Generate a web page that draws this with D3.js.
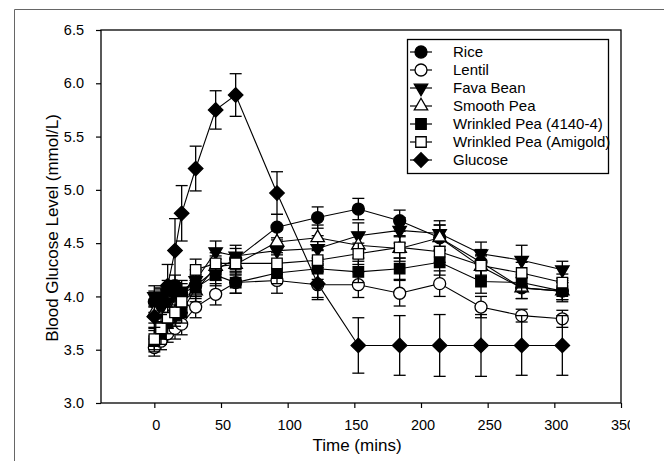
<!DOCTYPE html>
<html lang="en">
<head>
<meta charset="utf-8">
<script src="https://d3js.org/d3.v7.min.js"></script>
<style>
  body { margin: 0; background: #fff; }
  svg { display: block; font-family: "Liberation Sans", Arial, sans-serif; }
</style>
</head>
<body>
<div id="container"></div>
<script>
// sampling times as plotted (mins)
const times = [0, 5, 10, 15.5, 20.5, 31, 46, 61, 92, 122.5, 153, 184, 214, 245, 275.5, 306];

const seriesNames = ["Rice", "Lentil", "Fava Bean", "Smooth Pea", "Wrinkled Pea (4140-4)", "Wrinkled Pea (Amigold)", "Glucose"];

const rice     = [3.95, 3.98, 4.05, 4.10, 4.02, 4.10, 4.25, 4.35, 4.65, 4.74, 4.82, 4.71, 4.55, 4.32, 4.08, 4.05];
const riceErr  = [0.10, 0.10, 0.10, 0.10, 0.10, 0.10, 0.10, 0.10, 0.12, 0.10, 0.10, 0.10, 0.12, 0.12, 0.10, 0.10];

const lentil    = [3.52, 3.58, 3.65, 3.70, 3.74, 3.90, 4.02, 4.13, 4.15, 4.11, 4.11, 4.03, 4.12, 3.90, 3.82, 3.79];
const lentilErr = [0.08, 0.08, 0.08, 0.10, 0.10, 0.10, 0.10, 0.10, 0.12, 0.12, 0.12, 0.12, 0.12, 0.10, 0.06, 0.08];

const fava    = [4.00, 3.90, 3.95, 4.00, 4.05, 4.15, 4.42, 4.38, 4.43, 4.45, 4.57, 4.62, 4.59, 4.40, 4.34, 4.25];
const favaErr = [0.10, 0.10, 0.10, 0.10, 0.10, 0.10, 0.10, 0.10, 0.12, 0.12, 0.12, 0.12, 0.12, 0.11, 0.14, 0.08];

const smooth    = [3.85, 3.80, 3.85, 3.90, 3.95, 4.05, 4.28, 4.30, 4.51, 4.55, 4.48, 4.45, 4.55, 4.28, 4.08, 4.05];
const smoothErr = [0.10, 0.10, 0.10, 0.10, 0.10, 0.10, 0.10, 0.10, 0.12, 0.12, 0.12, 0.12, 0.12, 0.10, 0.10, 0.08];

const wp4140    = [3.58, 3.65, 3.75, 3.82, 3.85, 4.08, 4.20, 4.13, 4.22, 4.26, 4.23, 4.26, 4.32, 4.14, 4.13, 4.05];
const wp4140Err = [0.10, 0.10, 0.10, 0.10, 0.10, 0.10, 0.10, 0.10, 0.10, 0.10, 0.10, 0.10, 0.12, 0.11, 0.08, 0.08];

const amigold    = [3.60, 3.70, 3.80, 3.85, 3.95, 4.25, 4.31, 4.31, 4.31, 4.34, 4.40, 4.46, 4.42, 4.29, 4.22, 4.13];
const amigoldErr = [0.10, 0.10, 0.10, 0.10, 0.10, 0.10, 0.10, 0.10, 0.10, 0.10, 0.10, 0.10, 0.10, 0.10, 0.10, 0.08];

const glucose    = [3.81, 3.95, 4.10, 4.43, 4.78, 5.20, 5.75, 5.89, 4.97, 4.12, 3.54, 3.54, 3.54, 3.54, 3.54, 3.54];
const glucoseErr = [0.10, 0.12, 0.20, 0.30, 0.26, 0.21, 0.18, 0.20, 0.20, 0.15, 0.26, 0.28, 0.29, 0.29, 0.28, 0.28];

const xTicks = [0, 50, 100, 150, 200, 250, 300, 350];
const yTicks = [3.0, 3.5, 4.0, 4.5, 5.0, 5.5, 6.0, 6.5];

const width = 664, height = 461;
const svg = d3.select("#container").append("svg").attr("width", width).attr("height", height);

// outer frame (cropped at right / bottom)
svg.append("path").attr("d", "M14.5,470V9.5H670").attr("fill", "none").attr("stroke", "#666").attr("stroke-width", 1);

const x = d3.scaleLinear().domain([-40, 350]).range([101, 621]);
const y = d3.scaleLinear().domain([3, 6.5]).range([403, 30]);

svg.append("defs").append("clipPath").attr("id", "crop")
  .append("rect").attr("x", 0).attr("y", 0).attr("width", 630).attr("height", height);

const xAxis = svg.append("g").attr("transform", "translate(0,403)")
  .attr("clip-path", "url(#crop)")
  .call(d3.axisBottom(x).tickValues(xTicks).tickSize(5).tickPadding(12).tickFormat(d3.format("d")));
const yAxis = svg.append("g").attr("transform", "translate(101,0)")
  .call(d3.axisLeft(y).tickValues(yTicks).tickSize(5).tickPadding(12).tickFormat(d3.format(".1f")));
[xAxis, yAxis].forEach(a => {
  a.select(".domain").remove();
  a.selectAll("text").attr("font-size", 14.5).attr("fill", "#000").attr("font-family", "Liberation Sans, Arial, sans-serif");
  a.selectAll("line").attr("stroke", "#000").attr("stroke-width", 1.2);
});
xAxis.selectAll("text").attr("dx", 1.5);

svg.append("rect").attr("x", 101).attr("y", 30).attr("width", 520).attr("height", 373)
  .attr("fill", "none").attr("stroke", "#000").attr("stroke-width", 1.3);

svg.append("text").attr("x", 357).attr("y", 451).attr("text-anchor", "middle")
  .attr("font-size", 17).text("Time (mins)");
svg.append("text").attr("transform", "translate(58,228) rotate(-90)").attr("text-anchor", "middle")
  .attr("font-size", 17).text("Blood Glucose Level (mmol/L)");

// marker definitions
const sq = d3.symbol().type(d3.symbolSquare);
const markers = [
  { path: d3.symbol().type(d3.symbolCircle).size(113)(), fill: "#000", rot: 0 },
  { path: d3.symbol().type(d3.symbolCircle).size(113)(), fill: "#fff", rot: 0 },
  { path: d3.symbol().type(d3.symbolTriangle).size(78)(), fill: "#000", rot: 180 },
  { path: d3.symbol().type(d3.symbolTriangle).size(78)(), fill: "#fff", rot: 0 },
  { path: sq.size(110)(), fill: "#000", rot: 0 },
  { path: sq.size(110)(), fill: "#fff", rot: 0 },
  { path: sq.size(105)(), fill: "#000", rot: 45 }
];

const values = [rice, lentil, fava, smooth, wp4140, amigold, glucose];
const errors = [riceErr, lentilErr, favaErr, smoothErr, wp4140Err, amigoldErr, glucoseErr];

const line = d3.line().x(d => x(d.t)).y(d => y(d.v));
const plot = svg.append("g");

values.forEach((vals, i) => {
  const pts = vals.map((v, j) => ({ t: times[j], v: v, e: errors[i][j] }));
  const g = plot.append("g");
  const eb = g.selectAll(".eb").data(pts).enter().append("g").attr("stroke", "#000").attr("stroke-width", 1.3);
  eb.append("line").attr("x1", d => x(d.t)).attr("x2", d => x(d.t)).attr("y1", d => y(d.v + d.e)).attr("y2", d => y(d.v - d.e));
  eb.append("line").attr("x1", d => x(d.t) - 6).attr("x2", d => x(d.t) + 6).attr("y1", d => y(d.v + d.e)).attr("y2", d => y(d.v + d.e));
  eb.append("line").attr("x1", d => x(d.t) - 6).attr("x2", d => x(d.t) + 6).attr("y1", d => y(d.v - d.e)).attr("y2", d => y(d.v - d.e));
  g.append("path").datum(pts).attr("d", line).attr("fill", "none").attr("stroke", "#000").attr("stroke-width", 1.1);
  g.selectAll(".m").data(pts).enter().append("path")
    .attr("d", markers[i].path)
    .attr("transform", d => `translate(${x(d.t)},${y(d.v)}) rotate(${markers[i].rot})`)
    .attr("fill", markers[i].fill).attr("stroke", "#000").attr("stroke-width", 1.3);
});

// legend
const legend = svg.append("g");
legend.append("rect").attr("x", 407.5).attr("y", 39.5).attr("width", 201).attr("height", 134)
  .attr("fill", "#fff").attr("stroke", "#000").attr("stroke-width", 1.3);
seriesNames.forEach((name, i) => {
  const ly = 52 + i * 18;
  legend.append("line").attr("x1", 410).attr("x2", 432).attr("y1", ly).attr("y2", ly).attr("stroke", "#000").attr("stroke-width", 1.2);
  legend.append("path").attr("d", markers[i].path)
    .attr("transform", `translate(421,${ly}) rotate(${markers[i].rot})`)
    .attr("fill", markers[i].fill).attr("stroke", "#000").attr("stroke-width", 1.3);
  legend.append("text").attr("x", 453).attr("y", ly + 5).attr("font-size", 15).text(name);
});
</script>
</body>
</html>
